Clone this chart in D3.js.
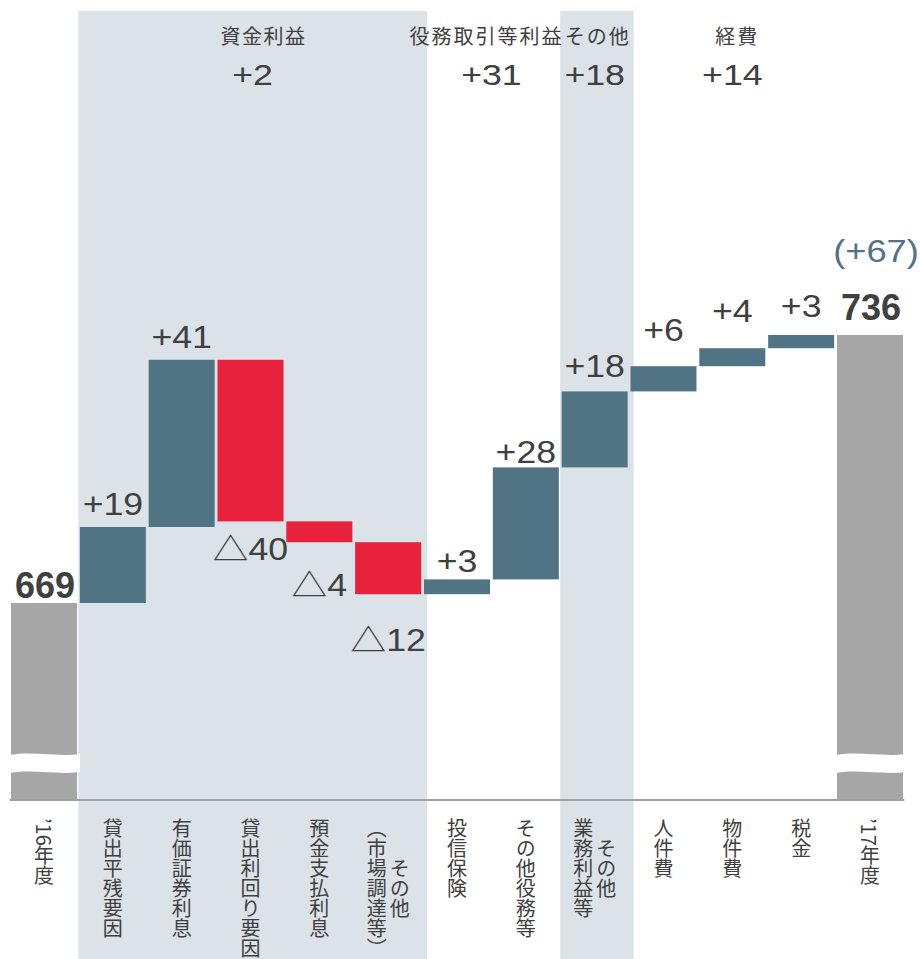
<!DOCTYPE html>
<html>
<head>
<meta charset="utf-8">
<script src="https://cdn.jsdelivr.net/npm/d3@7"></script>
<style>
  body { margin: 0; background: #fff; }
  svg { display: block; }
</style>
</head>
<body>
<script>
// ---- data ----
const categories = [
  "’16年度", "貸出平残要因", "有価証券利息", "貸出利回り要因", "預金支払利息",
  "その他\n（市場調達等）", "投信保険", "その他役務等", "その他\n業務利益等",
  "人件費", "物件費", "税金", "’17年度"
];
const startTotal = 669;
const endTotal = 736;
const totalText = ["669", "736"];
const changeText = "(+67)";
// bar heights, labels as printed
const deltas = [19, 41.8, -40.4, -5.2, -13, 3.7, 28, 19, 6.3, 4.5, 3.3];
const deltaText = ["+19", "+41", "△40", "△4", "△12", "+3", "+28", "+18", "+6", "+4", "+3"];

const groupNames = ["資金利益", "役務取引等利益", "その他", "経費"];
const groupTotals = ["+2", "+31", "+18", "+14"];
const groupFirst = [1, 6, 8, 9];
const groupLast = [5, 7, 8, 11];
const groupShaded = [true, false, true, false];

// ---- layout ----
const W = 920, H = 959;
const axisY = 800;
const labelNudge = [0, 0, 0, 15, 18, 5, 8, -2, -13, -14, -6];
const titleNudge = [13, -5, 3, 5];
const colUp = "#517485", colDown = "#e8213d", colTotal = "#a6a6a6";
const colShade = "#dbe3e9", colText = "#404040";
const numFont = "'Liberation Sans', Arial, 'Noto Sans CJK JP', sans-serif";
const jpFont = "'Noto Sans CJK JP', 'Noto Sans CJK SC', sans-serif";

const svg = d3.select("body").append("svg").attr("width", W).attr("height", H);

const x = d3.scaleBand()
  .domain(d3.range(categories.length))
  .range([9.6, 904.4])
  .paddingInner(0.041)
  .paddingOuter(0.0205);
const bw = x.bandwidth();
const cx = (i) => x(i) + bw / 2;

const y = d3.scaleLinear().domain([619.75, endTotal]).range([axisY, 335]);

// wide number text, centred on (tx, ty)
function numLabel(tx, ty, txt, size, sx, opts = {}) {
  return svg.append("text")
    .attr("transform", `translate(${tx},${ty}) scale(${sx},1)`)
    .attr("text-anchor", "middle")
    .style("font-family", numFont)
    .style("font-size", size + "px")
    .style("font-weight", opts.bold ? "bold" : "normal")
    .attr("fill", opts.color || colText)
    .text(txt);
}

// waterfall steps
let level = startTotal;
const steps = deltas.map((d, k) => {
  const s = { i: k + 1, from: level, to: level + d, v: d, label: deltaText[k] };
  level += d;
  return s;
});

// ---- shaded groups ----
groupNames.forEach((g, k) => {
  if (!groupShaded[k]) return;
  const x0 = x(groupFirst[k]) - 1.5;
  const x1 = x(groupLast[k]) + bw + 6;
  svg.append("rect")
    .attr("x", x0).attr("y", 11)
    .attr("width", x1 - x0).attr("height", H - 11)
    .attr("fill", colShade);
});

// ---- total bars ----
const totals = [{ i: 0, v: startTotal, t: totalText[0], gap: 5 },
                { i: categories.length - 1, v: endTotal, t: totalText[1], gap: 15 }];
svg.selectAll(".total").data(totals).join("rect")
  .attr("class", "total")
  .attr("x", (d) => x(d.i))
  .attr("y", (d) => y(d.v))
  .attr("width", bw)
  .attr("height", (d) => axisY - y(d.v))
  .attr("fill", colTotal);

// axis break marks
totals.forEach((d) => {
  const x0 = x(d.i) - 1, x1 = x(d.i) + bw + 3, w = x1 - x0;
  const t = axisY - 46, b = axisY - 28;
  const p = d3.path();
  p.moveTo(x0, t + 1);
  p.bezierCurveTo(x0 + w / 3, t - 3, x0 + 2 * w / 3, t + 3, x1, t);
  p.lineTo(x1, b);
  p.bezierCurveTo(x0 + 2 * w / 3, b + 3, x0 + w / 3, b - 3, x0, b + 1);
  p.closePath();
  svg.append("path").attr("d", p.toString()).attr("fill", "#fff");
});

// ---- delta bars ----
svg.selectAll(".step").data(steps).join("rect")
  .attr("class", "step")
  .attr("x", (d) => x(d.i))
  .attr("y", (d) => y(Math.max(d.from, d.to)))
  .attr("width", bw)
  .attr("height", (d) => Math.abs(y(d.from) - y(d.to)))
  .attr("fill", (d) => (d.v >= 0 ? colUp : colDown));

// axis line
svg.append("line")
  .attr("x1", x.range()[0]).attr("x2", x.range()[1])
  .attr("y1", axisY).attr("y2", axisY)
  .attr("stroke", "#a0a0a0").attr("stroke-width", 2);

// ---- value labels ----
steps.forEach((d, k) => {
  const ty = (d.v >= 0 ? y(d.to) - 12 : y(d.to) + 38.5) + labelNudge[k];
  numLabel(cx(d.i), ty, d.label, 31, 1.15);
});

totals.forEach((d) => {
  numLabel(cx(d.i) + 1, y(d.v) - d.gap, d.t, 36, 1.0, { bold: true });
});

numLabel(cx(categories.length - 1) + 6, y(endTotal) - 73, changeText, 31, 1.17, { color: colUp });

// ---- group headers ----
groupNames.forEach((g, k) => {
  const c = (x(groupFirst[k]) + x(groupLast[k]) + bw) / 2;
  svg.append("text")
    .attr("x", c + titleNudge[k]).attr("y", 44)
    .attr("text-anchor", "middle")
    .style("font-family", jpFont)
    .style("font-size", "20px")
    .style("letter-spacing", k === 0 ? "1.5px" : "2px")
    .attr("fill", colText)
    .text(g);
  numLabel(c + (k === 0 ? 2 : 0), 85, groupTotals[k], 30, 1.19);
});

// ---- category labels (vertical) ----
const fs = 20, lineGap = 23, labelTop = 818;
categories.forEach((name, i) => {
  const lines = name.split("\n");
  const n = lines.length;
  const maxLen = d3.max(lines, (l) => l.length);
  lines.forEach((l, j) => {
    svg.append("text")
      .attr("x", cx(i) + ((n - 1) * lineGap) / 2 - j * lineGap)
      .attr("y", n === 1 ? labelTop : labelTop + (maxLen * fs) / 2)
      .attr("text-anchor", n === 1 ? "start" : "middle")
      .style("writing-mode", "vertical-rl")
      .style("font-family", jpFont)
      .style("font-size", fs + "px")
      .attr("fill", colText)
      .text(l);
  });
});
</script>
</body>
</html>
